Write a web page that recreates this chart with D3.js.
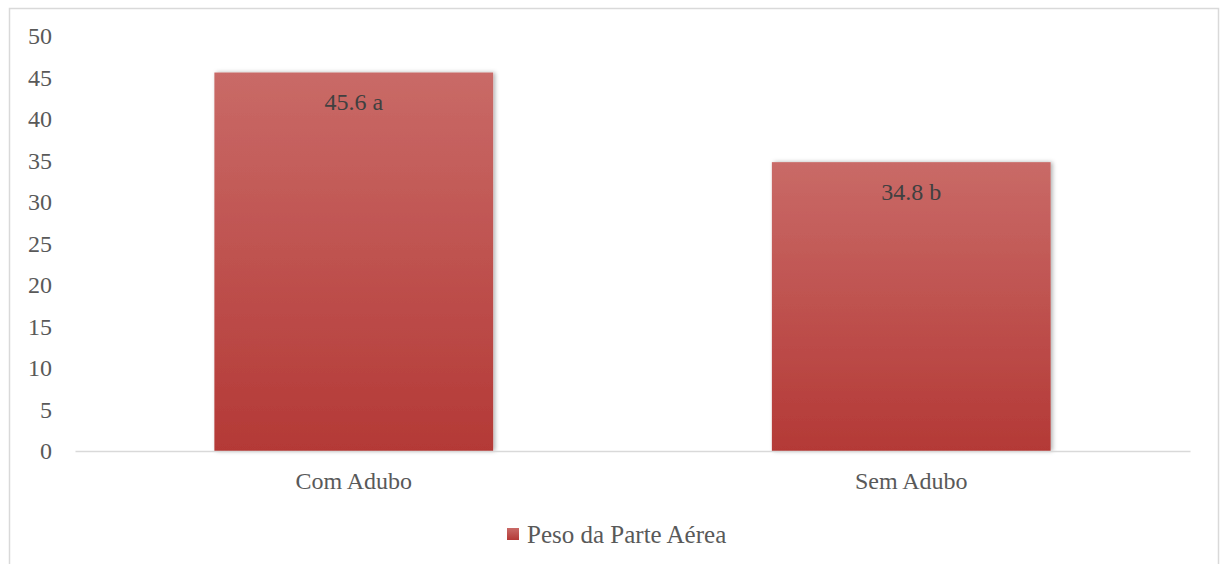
<!DOCTYPE html>
<html>
<head>
<meta charset="utf-8">
<script src="https://cdn.jsdelivr.net/npm/d3@7"></script>
<style>
  html, body { margin: 0; padding: 0; background: #fff; }
  svg text { font-family: "Liberation Serif", "DejaVu Serif", serif; }
</style>
</head>
<body>
<div id="chart"></div>
<script>
// dados do gráfico
var categories = ["Com Adubo", "Sem Adubo"];
var values = [45.6, 34.8];
var letters = ["a", "b"];
var yTicks = [0, 5, 10, 15, 20, 25, 30, 35, 40, 45, 50];
var seriesName = "Peso da Parte Aérea";

var W = 1227, H = 564;
var mLeft = 75, mRight = 1190, mTop = 36, mBottom = 451;
var fs = 24;

var svg = d3.select("#chart").append("svg")
    .attr("width", W)
    .attr("height", H);

var defs = svg.append("defs");
var grad = defs.append("linearGradient")
    .attr("id", "barGrad")
    .attr("x1", 0).attr("y1", 0).attr("x2", 0).attr("y2", 1);
grad.append("stop").attr("offset", "0%").attr("stop-color", "#c96a67");
grad.append("stop").attr("offset", "100%").attr("stop-color", "#b43936");

var shadow = defs.append("filter").attr("id", "shadow")
    .attr("x", "-10%").attr("y", "-10%").attr("width", "130%").attr("height", "120%");
shadow.append("feDropShadow")
    .attr("dx", 2).attr("dy", 0).attr("stdDeviation", 2)
    .attr("flood-color", "#000").attr("flood-opacity", 0.3);

// moldura
svg.append("rect")
    .attr("x", 9.5).attr("y", 8.5)
    .attr("width", 1209).attr("height", 570)
    .attr("fill", "none")
    .attr("stroke", "#d9d9d9")
    .attr("stroke-width", 1.5);

var x = d3.scaleBand()
    .domain(categories)
    .range([mLeft, mRight])
    .paddingInner(0.5)
    .paddingOuter(0.25);

var y = d3.scaleLinear()
    .domain([0, 50])
    .range([mBottom, mTop]);

// eixo y (so rotulos)
var yAxis = svg.append("g")
    .attr("transform", "translate(" + (mLeft - 20) + ",0)")
    .call(d3.axisLeft(y).tickValues(yTicks).tickSize(0).tickPadding(3));
yAxis.select(".domain").remove();
yAxis.selectAll("text")
    .attr("font-size", fs)
    .attr("fill", "#595959")
    .style("font-family", "'Liberation Serif', serif");

// barras
svg.selectAll("rect.bar")
    .data(values)
    .enter().append("rect")
    .attr("class", "bar")
    .attr("x", function(d, i){ return x(categories[i]); })
    .attr("y", function(d){ return y(d); })
    .attr("width", x.bandwidth())
    .attr("height", function(d){ return y(0) - y(d); })
    .attr("fill", "url(#barGrad)")
    .attr("filter", "url(#shadow)");

// rotulos das barras
svg.selectAll("text.lbl")
    .data(values)
    .enter().append("text")
    .attr("class", "lbl")
    .attr("x", function(d, i){ return x(categories[i]) + x.bandwidth() / 2; })
    .attr("y", function(d){ return y(d) + 29; })
    .attr("dy", "0.35em")
    .attr("text-anchor", "middle")
    .attr("font-size", fs)
    .attr("fill", "#404040")
    .text(function(d, i){ return d.toFixed(1) + " " + letters[i]; });

// eixo x
var xAxis = svg.append("g")
    .attr("transform", "translate(0," + mBottom + ")")
    .call(d3.axisBottom(x).tickSize(0).tickPadding(21));
xAxis.select(".domain")
    .attr("stroke", "#d9d9d9")
    .attr("stroke-width", 1.5);
xAxis.selectAll("text")
    .attr("font-size", fs)
    .attr("fill", "#595959")
    .style("font-family", "'Liberation Serif', serif");

// legenda
var leg = svg.append("g").attr("transform", "translate(507,528)");
leg.append("rect")
    .attr("width", 12).attr("height", 12)
    .attr("fill", "url(#barGrad)");
leg.append("text")
    .attr("x", 20).attr("y", 6)
    .attr("dy", "0.35em")
    .attr("font-size", 25)
    .attr("fill", "#595959")
    .text(seriesName);
</script>
</body>
</html>
